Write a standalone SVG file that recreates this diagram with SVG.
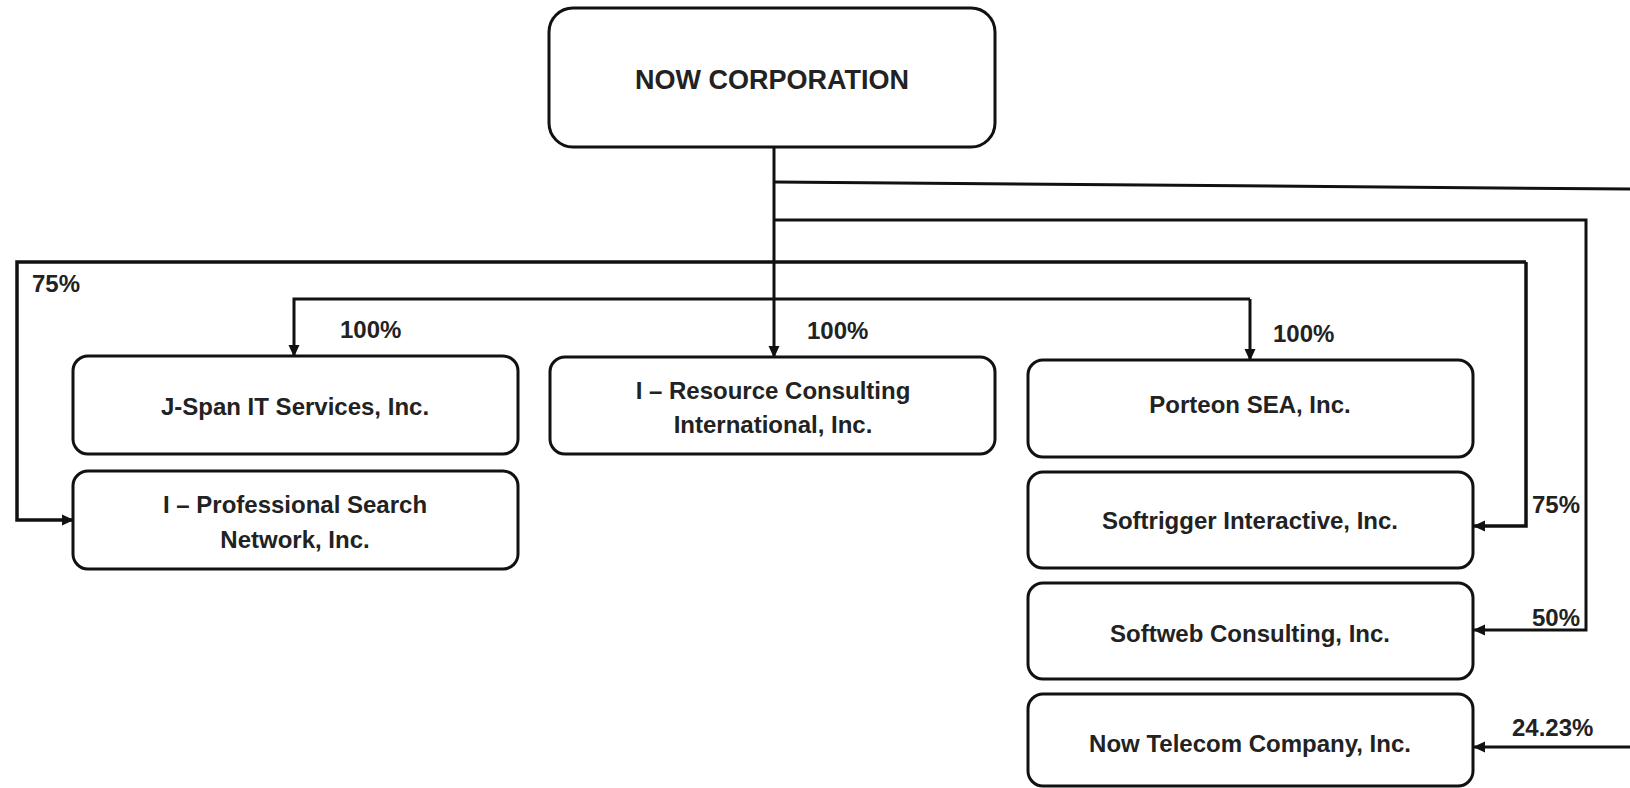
<svg xmlns="http://www.w3.org/2000/svg" width="1630" height="788" viewBox="0 0 1630 788">
<style>
.box{fill:#fff;stroke:#111;stroke-width:3}
.t{font-family:"Liberation Sans",Arial,sans-serif;font-weight:bold;font-size:24px;fill:#222;text-anchor:middle}
.p{font-family:"Liberation Sans",Arial,sans-serif;font-weight:bold;font-size:24px;fill:#222}
.c{fill:none;stroke:#111;stroke-width:3}
</style>
<defs>
<marker id="ah" markerUnits="userSpaceOnUse" markerWidth="12" markerHeight="12" viewBox="0 0 12 12" refX="11" refY="6" orient="auto">
<path d="M0,0.5 L12,6 L0,11.5 Z" fill="#111"/>
</marker>
</defs>
<rect width="1630" height="788" fill="#fff"/>
<g id="connectors">
<path class="c" d="M774 147 V357" marker-end="url(#ah)"/>
<path class="c" d="M774 182 L1630 189"/>
<path class="c" d="M774 220 H1586 V630 H1474" marker-end="url(#ah)"/>
<path class="c" style="stroke-width:3.5" d="M1526 262 V526 H1474" marker-end="url(#ah)"/>
<path class="c" style="stroke-width:3.5" d="M1526 262 H17 V520 H73" marker-end="url(#ah)"/>
<path class="c" d="M1250 299 H294 V356" marker-end="url(#ah)"/>
<path class="c" d="M1250 299 V360" marker-end="url(#ah)"/>
<path class="c" d="M1630 747 H1474" marker-end="url(#ah)"/>
<text class="p" x="32" y="292">75%</text>
<text class="p" x="340" y="338">100%</text>
<text class="p" x="807" y="339">100%</text>
<text class="p" x="1273" y="342">100%</text>
<text class="p" x="1532" y="513">75%</text>
<text class="p" x="1532" y="626">50%</text>
<text class="p" x="1512" y="736">24.23%</text>
</g>
<g id="now-corporation">
<rect class="box" x="549" y="8" width="446" height="139" rx="24"/>
<text class="t" x="772" y="89" style="font-size:27px">NOW CORPORATION</text>
</g>
<g id="jspan">
<rect class="box" x="73" y="356" width="445" height="98" rx="15"/>
<text class="t" x="295" y="415">J-Span IT Services, Inc.</text>
</g>
<g id="i-professional">
<rect class="box" x="73" y="471" width="445" height="98" rx="15"/>
<text class="t" x="295" y="513">I – Professional Search</text>
<text class="t" x="295" y="548">Network, Inc.</text>
</g>
<g id="i-resource">
<rect class="box" x="550" y="357" width="445" height="97" rx="15"/>
<text class="t" x="773" y="399">I – Resource Consulting</text>
<text class="t" x="773" y="433">International, Inc.</text>
</g>
<g id="porteon">
<rect class="box" x="1028" y="360" width="445" height="97" rx="15"/>
<text class="t" x="1250" y="413">Porteon SEA, Inc.</text>
</g>
<g id="softrigger">
<rect class="box" x="1028" y="472" width="445" height="96" rx="15"/>
<text class="t" x="1250" y="529">Softrigger Interactive, Inc.</text>
</g>
<g id="softweb">
<rect class="box" x="1028" y="583" width="445" height="96" rx="15"/>
<text class="t" x="1250" y="642">Softweb Consulting, Inc.</text>
</g>
<g id="now-telecom">
<rect class="box" x="1028" y="694" width="445" height="92" rx="15"/>
<text class="t" x="1250" y="752">Now Telecom Company, Inc.</text>
</g>
</svg>
